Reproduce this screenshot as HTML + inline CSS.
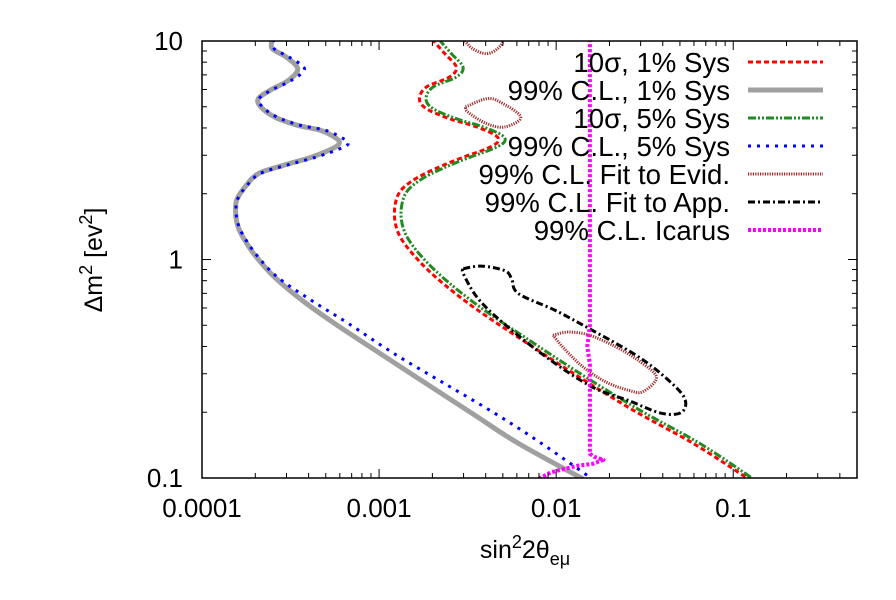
<!DOCTYPE html>
<html><head><meta charset="utf-8"><style>
html,body{margin:0;padding:0;background:#fff;}
svg{display:block;font-family:"Liberation Sans",sans-serif;}
</style></head><body>
<svg id="chart" width="896" height="600" viewBox="0 0 896 600" xmlns="http://www.w3.org/2000/svg">
<defs><clipPath id="plotclip"><rect x="202" y="41" width="655" height="437"/></clipPath></defs>
<g id="curves" clip-path="url(#plotclip)"></g>
<g id="axes"></g>
<g id="legend"></g>
<text x="525" y="558" font-size="25" text-anchor="middle">sin<tspan dy="-10" font-size="18">2</tspan><tspan dy="10">2θ</tspan><tspan dy="7" font-size="18">eμ</tspan></text>
<text transform="translate(102,260) rotate(-90)" font-size="25" text-anchor="middle" fill="#000">Δm<tspan dy="-10" font-size="18">2</tspan><tspan dy="10"> [ev</tspan><tspan dy="-10" font-size="18">2</tspan><tspan dy="10">]</tspan></text>
</svg>
<script>
// axis ranges
const xMin = 1e-4, xMax = 0.5, yMin = 0.1, yMax = 10;
const xTicks = [0.0001, 0.001, 0.01, 0.1];
const xTickLabels = ["0.0001", "0.001", "0.01", "0.1"];
const yTicks = [0.1, 1, 10];
const yTickLabels = ["0.1", "1", "10"];

// series (sin^2 2θ, Δm^2)
const cl99Sys1X = [2.49e-4,2.49e-4,2.99e-4,3.47e-4,3.08e-4,2.42e-4,2.08e-4,2.15e-4,2.57e-4,3.47e-4,4.68e-4,5.77e-4,5.94e-4,5.43e-4,4.15e-4,2.90e-4,2.08e-4,1.75e-4,1.57e-4,1.55e-4,1.60e-4,1.75e-4,2.02e-4,2.57e-4,3.68e-4,5.60e-4,1.02e-3,1.85e-3,3.37e-3,6.12e-3,1.42e-2];
const cl99Sys1Y = [10.2,9.23,8.45,7.46,6.61,5.94,5.44,4.99,4.49,4.11,3.90,3.57,3.39,3.21,2.94,2.70,2.47,2.15,1.87,1.62,1.41,1.22,1.03,0.83,0.65,0.51,0.37,0.27,0.197,0.144,0.099];
const cl99Sys5X = [2.55e-4,2.55e-4,3.1e-4,3.79e-4,3.2e-4,2.45e-4,2.1e-4,2.2e-4,2.65e-4,3.6e-4,5.0e-4,6.3e-4,6.7e-4,6.0e-4,4.4e-4,3.0e-4,2.12e-4,1.77e-4,1.58e-4,1.56e-4,1.62e-4,1.78e-4,2.07e-4,2.67e-4,4.15e-4,6.7e-4,1.22e-3,2.35e-3,4.54e-3,8.26e-3,1.60e-2];
const cl99Sys5Y = [10.2,9.23,8.45,7.46,6.61,5.94,5.44,4.99,4.49,4.11,3.90,3.57,3.39,3.21,2.94,2.70,2.47,2.15,1.87,1.62,1.41,1.22,1.03,0.83,0.65,0.51,0.37,0.27,0.197,0.144,0.099];
const sig10Sys1X = [1.99e-3,2.35e-3,2.73e-3,2.50e-3,1.85e-3,1.69e-3,1.85e-3,2.50e-3,3.57e-3,4.54e-3,4.68e-3,4.03e-3,2.99e-3,2.09e-3,1.55e-3,1.29e-3,1.22e-3,1.29e-3,1.55e-3,2.09e-3,3.37e-3,6.12e-3,1.26e-2,2.73e-2,5.94e-2,1.22e-1];
const sig10Sys1Y = [10.2,8.75,7.60,6.84,6.16,5.44,4.90,4.41,4.04,3.70,3.45,3.21,2.94,2.61,2.30,2.00,1.62,1.31,1.06,0.83,0.61,0.44,0.30,0.204,0.144,0.099];
const sig10Sys5X = [2.17e-3,2.56e-3,2.98e-3,2.73e-3,2.02e-3,1.84e-3,2.02e-3,2.73e-3,3.89e-3,4.95e-3,5.10e-3,4.39e-3,3.26e-3,2.28e-3,1.69e-3,1.41e-3,1.33e-3,1.41e-3,1.69e-3,2.28e-3,3.67e-3,6.67e-3,1.37e-2,2.98e-2,6.47e-2,1.30e-1];
const sig10Sys5Y = [10.2,8.75,7.60,6.84,6.16,5.44,4.90,4.41,4.04,3.70,3.45,3.21,2.94,2.61,2.30,2.00,1.62,1.31,1.06,0.83,0.61,0.44,0.30,0.204,0.144,0.099];
const evidTopX = [2.99e-3,3.37e-3,4.03e-3,4.68e-3,5.12e-3];
const evidTopY = [10.2,9.23,8.75,9.23,10.2];
const evidMidX = [3.08e-3,4.03e-3,4.82e-3,6.31e-3,5.12e-3,4.03e-3,3.17e-3,3.08e-3];
const evidMidY = [4.99,5.44,5.26,4.49,4.04,4.19,4.73,4.99];
const evidLowX = [9.6e-3,1.18e-2,1.55e-2,2.15e-2,2.90e-2,3.68e-2,3.08e-2,2.57e-2,1.91e-2,1.42e-2,1.11e-2,9.6e-3];
const evidLowY = [0.45,0.466,0.45,0.40,0.346,0.290,0.248,0.252,0.275,0.322,0.391,0.45];
const appX = [2.99e-3,3.79e-3,5.12e-3,5.60e-3,6.12e-3,9.89e-3,1.60e-2,2.73e-2,3.91e-2,5.27e-2,5.12e-2,3.91e-2,2.57e-2,1.60e-2,8.77e-3,4.82e-3,3.57e-3,2.99e-3,2.99e-3];
const appY = [0.908,0.933,0.89,0.817,0.698,0.585,0.474,0.371,0.30,0.235,0.20,0.198,0.226,0.261,0.358,0.527,0.673,0.861,0.908];
const icarusX = [1.55e-2,1.55e-2,1.50e-2,1.55e-2,1.55e-2,1.64e-2,1.85e-2,1.60e-2,1.33e-2,1.11e-2,9.3e-3,7.78e-3];
const icarusY = [10.2,0.5,0.4,0.33,0.129,0.125,0.121,0.116,0.114,0.110,0.106,0.098];

const L = 202, R = 857, T = 41, B = 478;
const lxMin = Math.log10(xMin), lxMax = Math.log10(xMax), lyMin = Math.log10(yMin), lyMax = Math.log10(yMax);
function sx(v){ return L + (Math.log10(v) - lxMin) / (lxMax - lxMin) * (R - L); }
function sy(v){ return B - (Math.log10(v) - lyMin) / (lyMax - lyMin) * (B - T); }
const NS = "http://www.w3.org/2000/svg";
function mk(tag, attrs, parent){ const e = document.createElementNS(NS, tag); for (const k in attrs) e.setAttribute(k, attrs[k]); parent.appendChild(e); return e; }
function pathD(xs, ys, smooth){
  const P = xs.map((x,i)=>[sx(x), sy(ys[i])]);
  if (!smooth) return P.map((p,i)=>(i?"L":"M")+p[0].toFixed(1)+","+p[1].toFixed(1)).join(" ");
  let d = "M"+P[0][0].toFixed(1)+","+P[0][1].toFixed(1);
  for (let i=0;i<P.length-1;i++){
    const p0=P[Math.max(0,i-1)], p1=P[i], p2=P[i+1], p3=P[Math.min(P.length-1,i+2)];
    const c1=[p1[0]+(p2[0]-p0[0])/6, p1[1]+(p2[1]-p0[1])/6];
    const c2=[p2[0]-(p3[0]-p1[0])/6, p2[1]-(p3[1]-p1[1])/6];
    d += " C"+c1[0].toFixed(1)+","+c1[1].toFixed(1)+" "+c2[0].toFixed(1)+","+c2[1].toFixed(1)+" "+p2[0].toFixed(1)+","+p2[1].toFixed(1);
  }
  return d;
}

const styles = {
  red: {stroke:"#ff0000","stroke-width":3,"stroke-dasharray":"5 3"},
  gray: {stroke:"#a0a0a0","stroke-width":5},
  green: {stroke:"#228b22","stroke-width":3,"stroke-dasharray":"8 2 2 2 2 2"},
  blue: {stroke:"#0000ff","stroke-width":3,"stroke-dasharray":"3 6"},
  brown: {stroke:"#a52a2a","stroke-width":3,"stroke-dasharray":"1.2 1.2"},
  black: {stroke:"#000000","stroke-width":3,"stroke-dasharray":"7 3 2 3"},
  magenta: {stroke:"#ff00ff","stroke-width":4,"stroke-dasharray":"3 2"}
};
const curves = document.getElementById("curves");
function drawSeries(name, xs, ys, st, smooth){
  const p = mk("path", Object.assign({d: pathD(xs, ys, smooth), fill:"none","stroke-linejoin":"round"}, st), curves);
  
  
}
drawSeries('series-99cl-1pct-sys', cl99Sys1X, cl99Sys1Y, styles.gray, true);
drawSeries('series-99cl-5pct-sys', cl99Sys5X, cl99Sys5Y, styles.blue, true);
drawSeries('series-10sigma-1pct-sys', sig10Sys1X, sig10Sys1Y, styles.red, true);
drawSeries('series-10sigma-5pct-sys', sig10Sys5X, sig10Sys5Y, styles.green, true);
drawSeries('series-fit-evid-top', evidTopX, evidTopY, styles.brown, true);
drawSeries('series-fit-evid-mid', evidMidX, evidMidY, styles.brown, true);
drawSeries('series-fit-evid-low', evidLowX, evidLowY, styles.brown, true);
drawSeries('series-fit-app', appX, appY, styles.black, true);
drawSeries('series-icarus', icarusX, icarusY, styles.magenta, false);

// axes
const axes = document.getElementById("axes");
const frame = mk("rect", {x:L, y:T, width:R-L, height:B-T, fill:"none", stroke:"#000", "stroke-width":1.5}, axes);


const tk = {stroke:"#000","stroke-width":1};
for (let d = -4; d <= -1; d++) {
  for (let m = 1; m <= 9; m++) {
    const v = m * Math.pow(10, d);
    if (v > xMax) break;
    const x = sx(v), len = m === 1 ? 9 : 5;
    const t1 = mk("line", Object.assign({x1:x, x2:x, y1:B, y2:B-len}, tk), axes);
    
    
    const t2 = mk("line", Object.assign({x1:x, x2:x, y1:T, y2:T+len}, tk), axes);
    
    
  }
}
for (let d = -1; d <= 0; d++) {
  for (let m = 1; m <= 9; m++) {
    const v = m * Math.pow(10, d);
    const y = sy(v), len = m === 1 ? 9 : 5;
    const t1 = mk("line", Object.assign({x1:L, x2:L+len, y1:y, y2:y}, tk), axes);
    
    
    const t2 = mk("line", Object.assign({x1:R, x2:R-len, y1:y, y2:y}, tk), axes);
    
    
  }
}
xTicks.forEach((v,i)=>{
  const t = mk("text", {x:sx(v), y:517, "font-size":26, "text-anchor":"middle"}, axes);
  t.textContent = xTickLabels[i];
  
  
});
yTicks.forEach((v,i)=>{
  const t = mk("text", {x:183, y:sy(v)+9, "font-size":26, "text-anchor":"end"}, axes);
  t.textContent = yTickLabels[i];
  
  
});

// legend
const legendLabels = ["10σ, 1% Sys","99% C.L., 1% Sys","10σ, 5% Sys","99% C.L., 5% Sys","99% C.L. Fit to Evid.","99% C.L. Fit to App.","99% C.L. Icarus"];
const legendStyles = [styles.red, styles.gray, styles.green, styles.blue, styles.brown, styles.black, styles.magenta];
const legend = document.getElementById("legend");
legendLabels.forEach((lab,i)=>{
  const cy = 62 + i*28;
  const g = mk("g", {}, legend);
  
  
  const t = mk("text", {x:730, y:cy+10, "font-size":27.6, "text-anchor":"end"}, g);
  t.textContent = lab;
  mk("line", Object.assign({x1:748, x2:823, y1:cy, y2:cy}, legendStyles[i]), g);
});
</script>
</body></html>
